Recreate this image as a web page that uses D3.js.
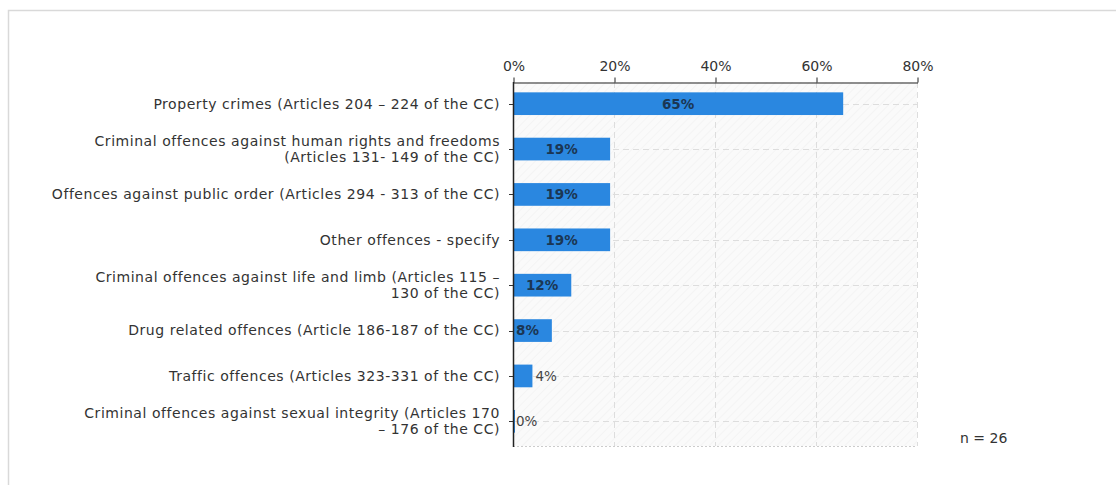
<!DOCTYPE html>
<html><head><meta charset="utf-8">
<script src="https://cdn.jsdelivr.net/npm/d3@7"></script>
<style>
html,body{margin:0;padding:0;background:#fff;}
svg{display:block;font-family:"DejaVu Sans",Verdana,sans-serif;}
</style></head>
<body>
<svg id="chart" width="1116" height="485"></svg>
<script>
const categories = [
  ["Property crimes (Articles 204 – 224 of the CC)"],
  ["Criminal offences against human rights and freedoms", "(Articles 131- 149 of the CC)"],
  ["Offences against public order (Articles 294 - 313 of the CC)"],
  ["Other offences - specify"],
  ["Criminal offences against life and limb (Articles 115 –", "130 of the CC)"],
  ["Drug related offences (Article 186-187 of the CC)"],
  ["Traffic offences (Articles 323-331 of the CC)"],
  ["Criminal offences against sexual integrity (Articles 170", "– 176 of the CC)"]
];
const counts = [17, 5, 5, 5, 3, 2, 1, 0];
const n = 26;
const values = counts.map(c => c / n * 100);
const xTicks = [0, 20, 40, 60, 80];

const svg = d3.select("#chart");
const m = {left: 513, right: 917, top: 82, bottom: 446};

// frame
svg.append("path").attr("d", "M8.5,485 L8.5,10.5 L1116,10.5")
  .attr("fill", "none").attr("stroke", "#d9d9d9").attr("stroke-width", 1.5);

const defs = svg.append("defs");
const pat = defs.append("pattern").attr("id", "hatch").attr("patternUnits", "userSpaceOnUse")
  .attr("width", 6).attr("height", 6).attr("patternTransform", "rotate(45)");
pat.append("rect").attr("width", 6).attr("height", 6).attr("fill", "#fafafa");
pat.append("line").attr("x1", 0).attr("y1", 0).attr("x2", 0).attr("y2", 6)
  .attr("stroke", "#eeeeee").attr("stroke-width", 1);

const x = d3.scaleLinear().domain([0, 80]).range([m.left, m.right]);
const y = d3.scaleBand().domain(d3.range(categories.length)).range([m.top - 1, m.bottom - 2]).paddingInner(0.5).paddingOuter(0.25);
const cy = i => Math.round(y(i) + y.bandwidth() / 2) + 0.5;

svg.append("rect").attr("x", m.left).attr("y", m.top).attr("width", m.right - m.left)
  .attr("height", m.bottom - m.top).attr("fill", "url(#hatch)");

// grid
const g = svg.append("g");
g.selectAll(".vg").data(xTicks.slice(1)).join("line")
  .attr("x1", d => x(d) + 0.5).attr("x2", d => x(d) + 0.5)
  .attr("y1", m.top).attr("y2", m.bottom)
  .attr("stroke", "#dddddd").attr("stroke-dasharray", "6,4");
g.selectAll(".hg").data(d3.range(categories.length)).join("line")
  .attr("x1", m.left).attr("x2", m.right)
  .attr("y1", cy).attr("y2", cy)
  .attr("stroke", "#dddddd").attr("stroke-dasharray", "6,4");
svg.append("line").attr("x1", m.left).attr("x2", m.right)
  .attr("y1", m.bottom + 0.5).attr("y2", m.bottom + 0.5)
  .attr("stroke", "#cccccc").attr("stroke-dasharray", "2,2");

// bars
svg.selectAll(".bar").data(values).join("rect")
  .attr("x", x(0)).attr("y", (d, i) => y(i))
  .attr("width", d => Math.max(x(d) - x(0), 2))
  .attr("height", y.bandwidth())
  .attr("fill", "#2a87e0");

// bar labels
svg.selectAll(".bl").data(values).join("text")
  .attr("x", (d, i) => {
    const w = x(d) - x(0);
    if (w > 50) return x(0) + w / 2;
    if (w > 30) return x(0) + 3;
    return x(d) + 3;
  })
  .attr("text-anchor", d => (x(d) - x(0) > 50 ? "middle" : "start"))
  .attr("y", (d, i) => y(i) + y.bandwidth() / 2)
  .attr("dy", "0.36em")
  .attr("font-size", 13.5)
  .attr("font-weight", d => (x(d) - x(0) > 30 ? "bold" : "normal"))
  .attr("fill", d => (x(d) - x(0) > 30 ? "#1b3653" : "#444"))
  .text(d => Math.round(d) + "%");

// top axis
const xAxis = d3.axisTop(x).tickValues(xTicks).tickFormat(d => d + "%").tickSize(5).tickSizeOuter(0).tickPadding(7);
const ax = svg.append("g").attr("transform", `translate(0.5,${m.top + 0.5})`).call(xAxis);
ax.select(".domain").attr("stroke", "#222").attr("stroke-width", 1.2);
ax.selectAll(".tick line").attr("stroke", "#222");
ax.selectAll("text").attr("font-size", 14).attr("fill", "#333").attr("font-family", "DejaVu Sans");

// y axis
svg.append("line").attr("x1", m.left + 0.5).attr("x2", m.left + 0.5)
  .attr("y1", m.top).attr("y2", m.bottom + 1).attr("stroke", "#222").attr("stroke-width", 1.5);
svg.selectAll(".yt").data(d3.range(categories.length)).join("line")
  .attr("x1", m.left - 4).attr("x2", m.left)
  .attr("y1", cy).attr("y2", cy)
  .attr("stroke", "#333");

const lab = svg.selectAll(".cl").data(categories).join("text")
  .attr("text-anchor", "end").attr("font-size", 14).attr("letter-spacing", 0.55).attr("fill", "#333")
  .attr("transform", (d, i) => `translate(${m.left - 13},${y(i) + y.bandwidth() / 2})`);
lab.each(function(lines) {
  const t = d3.select(this);
  const lh = 16;
  const off = -(lines.length - 1) * lh / 2;
  lines.forEach((l, k) => {
    t.append("tspan").attr("x", 0).attr("y", off + k * lh).attr("dy", "0.35em").text(l);
  });
});

svg.append("text").attr("x", 960).attr("y", 443).attr("font-size", 14).attr("fill", "#333")
  .text("n = " + n);
</script>
</body></html>
